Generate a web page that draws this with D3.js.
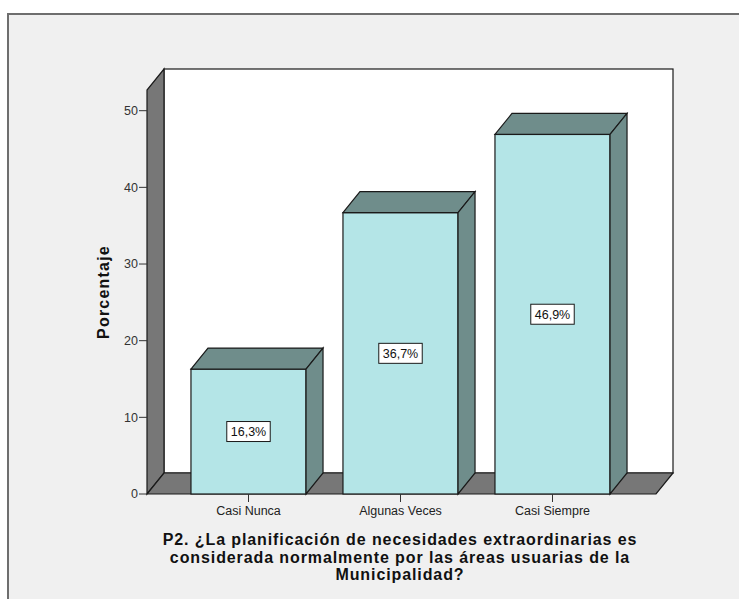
<!DOCTYPE html>
<html>
<head>
<meta charset="utf-8">
<script src="https://cdn.jsdelivr.net/npm/d3@7"></script>
<style>
  html, body { margin: 0; padding: 0; background: #ffffff; }
  svg { display: block; }
</style>
</head>
<body>
<svg id="chart" width="739" height="599"></svg>
<script>
// Categories and percentages of the answers to question P2
const categories = ["Casi Nunca", "Algunas Veces", "Casi Siempre"];
const percentages = [16.3, 36.7, 46.9];
const valueLabels = ["16,3%", "36,7%", "46,9%"];
const yTicks = [0, 10, 20, 30, 40, 50];
const titleLines = [
  "P2. ¿La planificación de necesidades extraordinarias es",
  "considerada normalmente por las áreas usuarias de la",
  "Municipalidad?"
];
const yAxisTitle = "Porcentaje";
const yMax = 52.7;

const svg = d3.select("#chart");
const font = "'Liberation Sans', Arial, sans-serif";

// Depth offset of the 3-D effect
const dx = 17, dy = 21;

// Outer panel
svg.append("rect")
  .attr("x", 8).attr("y", 14).attr("width", 760).attr("height", 620)
  .attr("fill", "#f0f0f0").attr("stroke", "#6e6e6e").attr("stroke-width", 2);

// Scales
const y = d3.scaleLinear().domain([0, yMax]).range([494, 90]);
const x = d3.scaleBand().domain(categories)
  .range([172.5, 628.5]).paddingInner(0.243).paddingOuter(0.1215);

const x0 = 147, x1 = 656;          // front floor extent
const y0 = y(0), yTop = y(yMax);

const stroke = "#1a1a1a";

// Back wall
svg.append("rect")
  .attr("x", x0 + dx).attr("y", yTop - dy)
  .attr("width", x1 - x0).attr("height", y0 - yTop)
  .attr("fill", "#ffffff").attr("stroke", stroke).attr("stroke-width", 1.2);

// Left wall
svg.append("polygon")
  .attr("points", [[x0, y0], [x0, yTop], [x0 + dx, yTop - dy], [x0 + dx, y0 - dy]].join(" "))
  .attr("fill", "#777777").attr("stroke", stroke).attr("stroke-width", 1.2);

// Floor
svg.append("polygon")
  .attr("points", [[x0, y0], [x1, y0], [x1 + dx, y0 - dy], [x0 + dx, y0 - dy]].join(" "))
  .attr("fill", "#777777").attr("stroke", stroke).attr("stroke-width", 1.2);

// Y axis ticks and labels
const yAxis = svg.append("g");
yAxis.selectAll("line").data(yTicks).join("line")
  .attr("x1", x0 - 8).attr("x2", x0)
  .attr("y1", d => y(d)).attr("y2", d => y(d))
  .attr("stroke", "#333").attr("stroke-width", 1);
yAxis.selectAll("text").data(yTicks).join("text")
  .attr("x", x0 - 9).attr("y", d => y(d)).attr("dy", "0.35em")
  .attr("text-anchor", "end")
  .attr("font-family", font).attr("font-size", 12.5).attr("fill", "#333")
  .text(d => d);

// Y axis title
svg.append("text")
  .attr("transform", "translate(109,292) rotate(-90)")
  .attr("text-anchor", "middle")
  .attr("font-family", font).attr("font-size", 16).attr("font-weight", "bold")
  .attr("letter-spacing", 1.2)
  .attr("fill", "#111")
  .text(yAxisTitle);

// Bars
const bars = svg.append("g").selectAll("g").data(categories).join("g");
bars.each(function (c, i) {
  const g = d3.select(this);
  const bx0 = x(c), bx1 = x(c) + x.bandwidth();
  const by = y(percentages[i]);
  // front face
  g.append("rect")
    .attr("x", bx0).attr("y", by).attr("width", bx1 - bx0).attr("height", y0 - by)
    .attr("fill", "#b4e5e7").attr("stroke", stroke).attr("stroke-width", 1.2);
  // top face
  g.append("polygon")
    .attr("points", [[bx0, by], [bx0 + dx, by - dy], [bx1 + dx, by - dy], [bx1, by]].join(" "))
    .attr("fill", "#6f8d8b").attr("stroke", stroke).attr("stroke-width", 1.2);
  // side face
  g.append("polygon")
    .attr("points", [[bx1, by], [bx1 + dx, by - dy], [bx1 + dx, y0 - dy], [bx1, y0]].join(" "))
    .attr("fill", "#6f8d8b").attr("stroke", stroke).attr("stroke-width", 1.2);

  // value label box
  const cx = bx0 + x.bandwidth() / 2;
  const cy = (by + y0) / 2;
  const t = g.append("text")
    .attr("x", cx).attr("y", cy).attr("dy", "0.36em")
    .attr("text-anchor", "middle")
    .attr("font-family", font).attr("font-size", 12.5).attr("fill", "#111")
    .text(valueLabels[i]);
  const w = t.node().getComputedTextLength() + 8;
  g.insert("rect", "text")
    .attr("x", cx - w / 2).attr("y", cy - 10).attr("width", w).attr("height", 20)
    .attr("fill", "#ffffff").attr("stroke", stroke).attr("stroke-width", 1);
});

// X axis ticks and labels
const xAxis = svg.append("g");
xAxis.selectAll("line").data(categories).join("line")
  .attr("x1", d => x(d) + x.bandwidth() / 2).attr("x2", d => x(d) + x.bandwidth() / 2)
  .attr("y1", y0).attr("y2", y0 + 8)
  .attr("stroke", "#333").attr("stroke-width", 1);
xAxis.selectAll("text").data(categories).join("text")
  .attr("x", d => x(d) + x.bandwidth() / 2).attr("y", y0 + 21)
  .attr("text-anchor", "middle")
  .attr("font-family", font).attr("font-size", 12.5).attr("fill", "#222")
  .text(d => d);

// Chart title
svg.append("g").selectAll("text").data(titleLines).join("text")
  .attr("x", 400).attr("y", (d, i) => 545 + i * 17.5)
  .attr("text-anchor", "middle")
  .attr("font-family", font).attr("font-size", 16).attr("font-weight", "bold")
  .attr("letter-spacing", 0.9)
  .attr("fill", "#111")
  .text(d => d);
</script>
</body>
</html>
